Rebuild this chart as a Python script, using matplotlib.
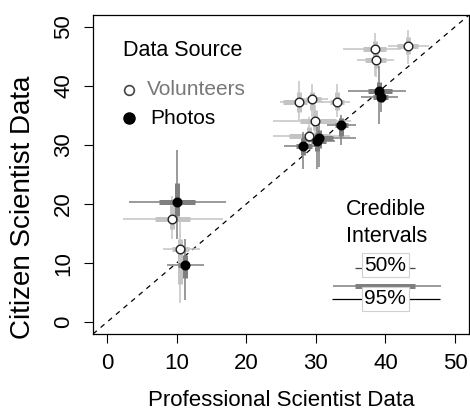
import matplotlib
matplotlib.use("Agg")
import matplotlib.pyplot as plt

plt.rcParams['font.family'] = ['Liberation Sans', 'DejaVu Sans']

# Volunteer counts: professional estimate (x), citizen estimate (y),
# with 50% and 95% credible intervals on each axis
vol_x = [9.35, 10.5, 38.5, 43.2, 38.6, 27.6, 29.4, 33.0, 29.9, 29.0]
vol_y = [17.5, 12.4, 46.2, 46.7, 44.4, 37.3, 37.7, 37.2, 34.1, 31.5]
vol_x50 = [(6.9, 11.9), (9.4, 11.8), (36.8, 40.1), (41.6, 44.7), (37.0, 40.1),
           (25.3, 28.8), (28.6, 30.8), (32.0, 34.1), (27.7, 32.9), (26.2, 32.0)]
vol_x95 = [(2.3, 16.6), (8.0, 13.4), (33.9, 42.2), (40.4, 46.3), (35.9, 41.3),
           (24.8, 31.0), (27.7, 31.7), (30.8, 34.9), (23.9, 35.1), (23.8, 34.9)]
vol_y50 = [(15.7, 19.9), (6.5, 14.0), (45.1, 47.6), (45.4, 48.2), (43.0, 45.5),
           (35.6, 38.9), (36.0, 39.0), (35.9, 38.9), (32.5, 35.9), (30.5, 33.0)]
vol_y95 = [(14.0, 21.4), (3.2, 17.1), (41.7, 49.0), (43.7, 49.4), (41.5, 46.5),
           (34.2, 40.9), (34.7, 40.4), (34.7, 40.4), (31.6, 36.7), (29.7, 34.7)]

# Photo counts
pho_x = [10.0, 11.2, 39.1, 39.3, 33.6, 30.5, 30.2, 28.2]
pho_y = [20.4, 9.7, 39.1, 38.2, 33.4, 31.2, 30.6, 29.8]
pho_x50 = [(7.5, 12.6), (10.2, 11.8), (37.5, 40.9), (38.2, 40.4), (32.7, 34.6),
           (29.4, 32.5), (29.3, 31.5), (27.2, 29.4)]
pho_x95 = [(3.1, 17.1), (8.6, 14.0), (34.6, 43.0), (36.5, 41.8), (31.6, 35.8),
           (28.0, 35.8), (28.4, 32.7), (25.5, 30.3)]
pho_y50 = [(17.9, 23.6), (7.5, 11.4), (37.5, 40.6), (37.3, 39.2), (31.6, 34.5),
           (29.5, 32.5), (29.0, 32.0), (28.3, 31.1)]
pho_y95 = [(14.0, 29.2), (3.7, 14.1), (33.6, 43.4), (35.5, 40.5), (30.0, 35.0),
           (26.3, 33.5), (26.0, 33.0), (26.0, 32.2)]

ticks = [0, 10, 20, 30, 40, 50]

VOL_COLOR = '#c4c4c4'
PHO_COLOR = '#7f7f7f'
THIN = 1.1
THICK = 3.6

fig = plt.figure(figsize=(4.70, 4.12), dpi=100)
ax = fig.add_axes([93 / 470, (412 - 334) / 412, 376 / 470, 319 / 412])
ax.set_xlim(-2, 52)
ax.set_ylim(-2, 52)

ax.axline((0, 0), slope=1, color='black', lw=0.9, ls=(0, (4, 4)), zorder=1)


def draw_intervals(xs, ys, x50, x95, y50, y95, color):
    for x, y, a, b, c, d in zip(xs, ys, x50, x95, y50, y95):
        ax.hlines(y, b[0], b[1], color=color, lw=THIN, zorder=2)
        ax.vlines(x, d[0], d[1], color=color, lw=THIN, zorder=2)
        ax.hlines(y, a[0], a[1], color=color, lw=THICK, zorder=2)
        ax.vlines(x, c[0], c[1], color=color, lw=THICK, zorder=2)


draw_intervals(vol_x, vol_y, vol_x50, vol_x95, vol_y50, vol_y95, VOL_COLOR)
draw_intervals(pho_x, pho_y, pho_x50, pho_x95, pho_y50, pho_y95, PHO_COLOR)

ax.plot(vol_x, vol_y, 'o', ms=6.2, mfc='white', mec='#222222', mew=1.0, zorder=4)
ax.plot(pho_x, pho_y, 'o', ms=6.2, mfc='black', mec='black', mew=1.0, zorder=5)

# axes styling
for s in ax.spines.values():
    s.set_linewidth(0.9)
ax.set_xticks(ticks)
ax.set_yticks(ticks)
ax.tick_params(direction='out', length=6.5, width=0.8, labelsize=16, pad=7)
for lab in ax.get_yticklabels():
    lab.set_rotation(90)
    lab.set_va('center')

ax.set_xlabel('Professional Scientist Data', fontsize=16)
ax.xaxis.label.set_va('center')
ax.xaxis.set_label_coords(0.5, (334 - 401) / 319)
ax.set_ylabel('Citizen Scientist Data', fontsize=20)
ax.yaxis.label.set_va('center')
ax.yaxis.set_label_coords((23 - 93) / 376, (334 - 207) / 319)

T = ax.transAxes

# data source key
ax.text(0.080, 0.890, 'Data Source', transform=T, fontsize=15.5, va='center', ha='left')
ax.plot([0.096], [0.765], 'o', ms=7, mfc='white', mec='#444444', mew=1.2,
        transform=T, clip_on=False)
ax.text(0.144, 0.765, 'Volunteers', transform=T, fontsize=15, va='center',
        ha='left', color='#777777')
ax.plot([0.096], [0.676], 'o', ms=8, mfc='black', mec='black',
        transform=T, clip_on=False)
ax.text(0.152, 0.676, 'Photos', transform=T, fontsize=15, va='center', ha='left')

# credible interval key
ax.text(0.78, 0.389, 'Credible', transform=T, fontsize=15.5, ha='center', va='center')
ax.text(0.78, 0.305, 'Intervals', transform=T, fontsize=15.5, ha='center', va='center')

box = dict(boxstyle='square,pad=0.12', fc='white', ec='#d0d0d0', lw=0.8)
ax.plot([0.697, 0.856], [0.207, 0.207], color='#444444', lw=0.9, transform=T,
        solid_capstyle='butt')
ax.text(0.777, 0.216, '50%', transform=T, fontsize=15, ha='center', va='center',
        bbox=box)
ax.plot([0.637, 0.925], [0.150, 0.150], color=PHO_COLOR, lw=THIN, transform=T,
        solid_capstyle='butt')
ax.plot([0.697, 0.856], [0.150, 0.150], color=PHO_COLOR, lw=THICK, transform=T,
        solid_capstyle='butt')
ax.plot([0.635, 0.923], [0.111, 0.111], color='black', lw=0.9, transform=T,
        solid_capstyle='butt')
ax.text(0.777, 0.111, '95%', transform=T, fontsize=15, ha='center', va='center',
        bbox=box)

fig.savefig('out.png', dpi=100)
